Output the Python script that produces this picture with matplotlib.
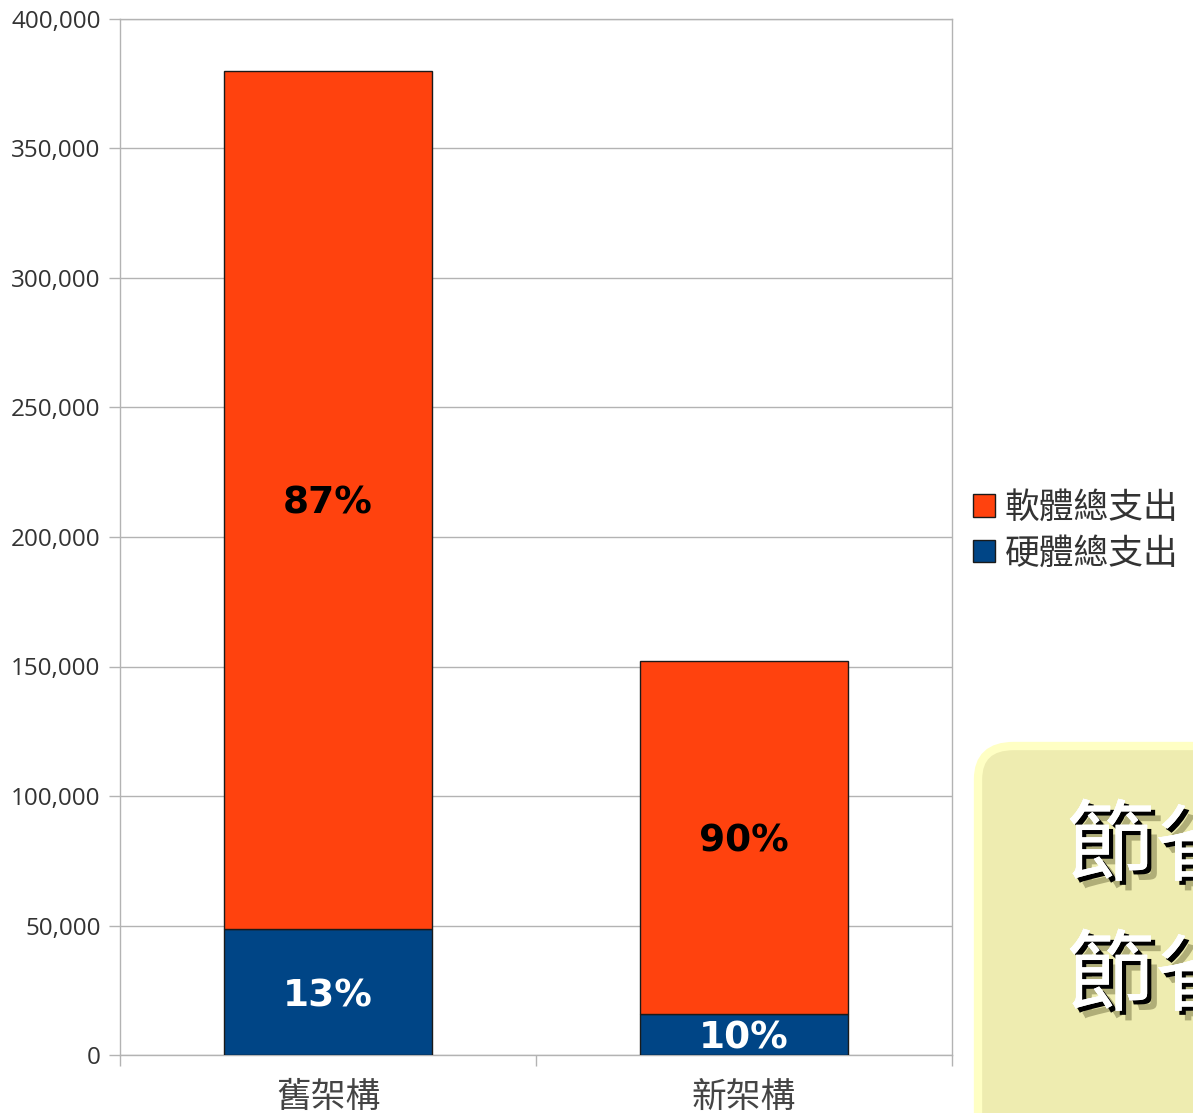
import matplotlib
matplotlib.use("Agg")
import matplotlib.pyplot as plt
import matplotlib.patheffects as pe
from matplotlib.patches import FancyBboxPatch, Patch
from matplotlib.ticker import FuncFormatter, MultipleLocator

# 資料
categories = ["舊架構", "新架構"]
hardware = [48600, 15800]     # 硬體總支出
software = [331400, 136200]   # 軟體總支出
hw_pct = ["13%", "10%"]
sw_pct = ["87%", "90%"]

c_sw = "#ff420e"
c_hw = "#004586"
grey = "#b3b3b3"
cjk = ["Noto Sans CJK TC", "DejaVu Sans"]

fig = plt.figure(figsize=(11.93, 11.13), dpi=100)
ax = fig.add_axes([120 / 1193, 58 / 1113, 832 / 1193, 1036 / 1113])

x = range(len(categories))
ax.bar(x, hardware, width=0.5, color=c_hw, edgecolor="#1a1a1a", linewidth=1, zorder=3)
ax.bar(x, software, width=0.5, bottom=hardware, color=c_sw, edgecolor="#1a1a1a",
       linewidth=1, zorder=3)

# 百分比標籤
for i in x:
    ax.text(i, hardware[i] / 2, hw_pct[i], ha="center", va="center_baseline", color="white",
            fontsize=27, fontweight="bold", family="DejaVu Sans", zorder=4)
    ax.text(i, hardware[i] + software[i] / 2, sw_pct[i], ha="center", va="center_baseline",
            color="black", fontsize=27, fontweight="bold", family="DejaVu Sans", zorder=4)

ax.set_xlim(-0.5, 1.5)
ax.set_ylim(0, 400000)
ax.yaxis.set_major_locator(MultipleLocator(50000))
ax.yaxis.set_major_formatter(FuncFormatter(lambda v, p: f"{int(v):,}"))
ax.grid(axis="y", color=grey, linewidth=1, zorder=0)

ax.set_xticks(list(x))
ax.set_xticklabels(categories, family=cjk, fontsize=25, color="#444444")
ax.set_xticks([-0.5, 0.5, 1.5], minor=True)
ax.tick_params(axis="x", which="major", length=0, pad=18)
ax.tick_params(axis="x", which="minor", length=8, color=grey, width=1)
ax.tick_params(axis="y", length=8, color=grey, width=1, pad=6, labelsize=17.5,
               labelcolor="#333333")
for lbl in ax.get_yticklabels():
    lbl.set_family("Open Sans")
for s in ax.spines.values():
    s.set_color(grey)
    s.set_linewidth(1)

# 圖例
handles = [Patch(facecolor=c_sw, edgecolor="#1a1a1a", label="軟體總支出"),
           Patch(facecolor=c_hw, edgecolor="#1a1a1a", label="硬體總支出")]
leg = fig.legend(handles=handles, loc="center left", bbox_to_anchor=(973 / 1193, 1 - 531 / 1113),
                 frameon=False, borderpad=0, borderaxespad=0, handlelength=0.62,
                 handleheight=0.62, handletextpad=0.3, labelspacing=0.3,
                 prop={"family": cjk, "size": 25})
for t in leg.get_texts():
    t.set_color("#333333")

# 右下角黃色框
box = FancyBboxPatch((978 / 1193, -0.1), 0.3, 1 - 746 / 1113 + 0.1,
                     boxstyle="round,pad=0,rounding_size=0.03", transform=fig.transFigure,
                     facecolor="#eeecb0", edgecolor="#ffffc4", linewidth=6, zorder=1)
fig.patches.append(box)

effects = [pe.withSimplePatchShadow(offset=(7, -7), shadow_rgbFace="#b0ae78", alpha=1),
           pe.withSimplePatchShadow(offset=(3, -3), shadow_rgbFace="black", alpha=1),
           pe.Normal()]
for yy in [838, 968]:
    fig.text(1066 / 1193, 1 - yy / 1113, "節省", fontsize=64, color="white",
             family=cjk, va="center_baseline", ha="left", path_effects=effects)

fig.savefig("out.png", dpi=100)
